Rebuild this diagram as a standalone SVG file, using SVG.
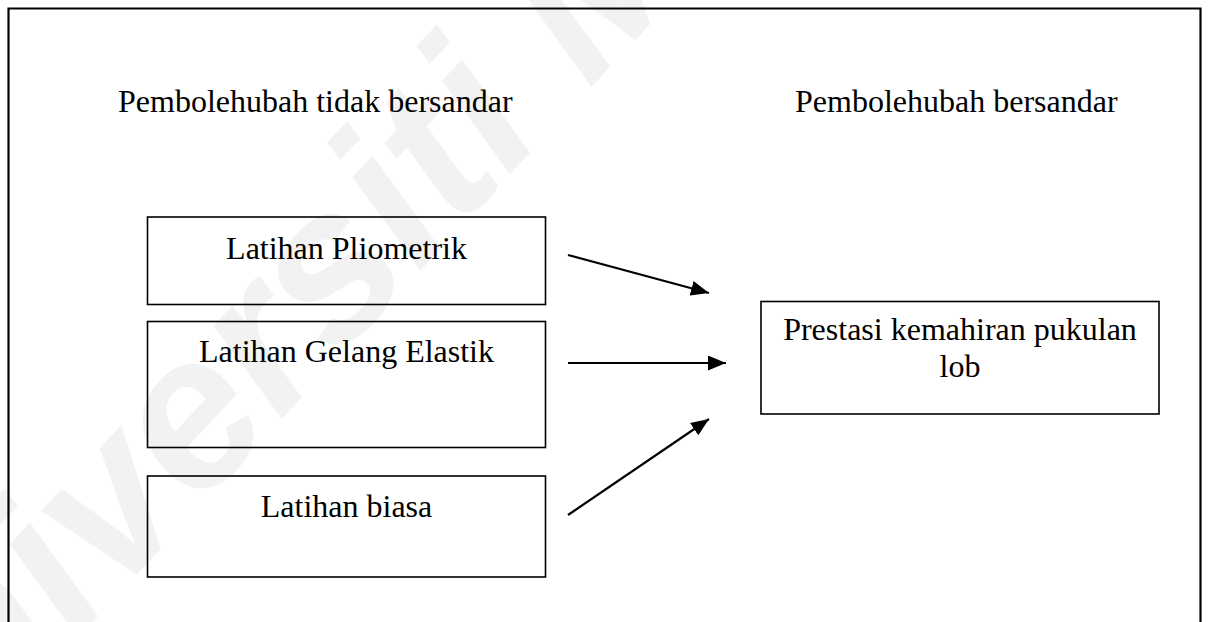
<svg xmlns="http://www.w3.org/2000/svg" width="1208" height="622" viewBox="0 0 1208 622">
  <defs>
    <style>
      .t { font-family: "Liberation Serif", "Times New Roman", serif; font-size: 32px; fill: #000; }
      .c { text-anchor: middle; }
      .box { fill: none; stroke: #000; stroke-width: 1.6; }
      .frame { fill: none; stroke: #000; stroke-width: 2.2; }
      .conn { fill: none; stroke: #000; stroke-width: 2.2; marker-end: url(#ah); }
      .wm { font-family: "Liberation Sans", Arial, sans-serif; font-weight: bold; font-style: italic; font-size: 215px; fill: #000; fill-opacity: 0.05; }
    </style>
    <marker id="ah" markerUnits="userSpaceOnUse" markerWidth="19" markerHeight="15" refX="18" refY="7.5" orient="auto">
      <path d="M0,0 L18,7.5 L0,15 z" fill="#000"/>
    </marker>
  </defs>
  <rect width="1208" height="622" fill="#fff"/>
  <text class="wm" transform="translate(-120 850) rotate(-47)">Universiti Malaya</text>
  <path class="frame" d="M8.5 640 V8.5 H1200.5 V640"/>
  <g id="title-independent">
    <text class="t" x="118" y="112">Pembolehubah tidak bersandar</text>
  </g>
  <g id="title-dependent">
    <text class="t" x="795" y="112">Pembolehubah bersandar</text>
  </g>
  <g id="node-pliometrik">
    <rect class="box" x="147.5" y="217" width="398" height="87.5"/>
    <text class="t c" x="346.5" y="259">Latihan Pliometrik</text>
  </g>
  <g id="node-gelang">
    <rect class="box" x="147.5" y="321.5" width="398" height="126"/>
    <text class="t c" x="346.5" y="362">Latihan Gelang Elastik</text>
  </g>
  <g id="node-biasa">
    <rect class="box" x="147.5" y="476" width="398" height="101"/>
    <text class="t c" x="346.5" y="517">Latihan biasa</text>
  </g>
  <g id="node-prestasi">
    <rect class="box" x="761" y="301.5" width="398" height="112.5"/>
    <text class="t c" x="960" y="340">Prestasi kemahiran pukulan</text>
    <text class="t c" x="960" y="377">lob</text>
  </g>
  <g id="connectors">
    <line class="conn" x1="568" y1="255" x2="709" y2="293"/>
    <line class="conn" x1="568" y1="363" x2="726" y2="363"/>
    <line class="conn" x1="568" y1="515" x2="709" y2="419"/>
  </g>
</svg>
